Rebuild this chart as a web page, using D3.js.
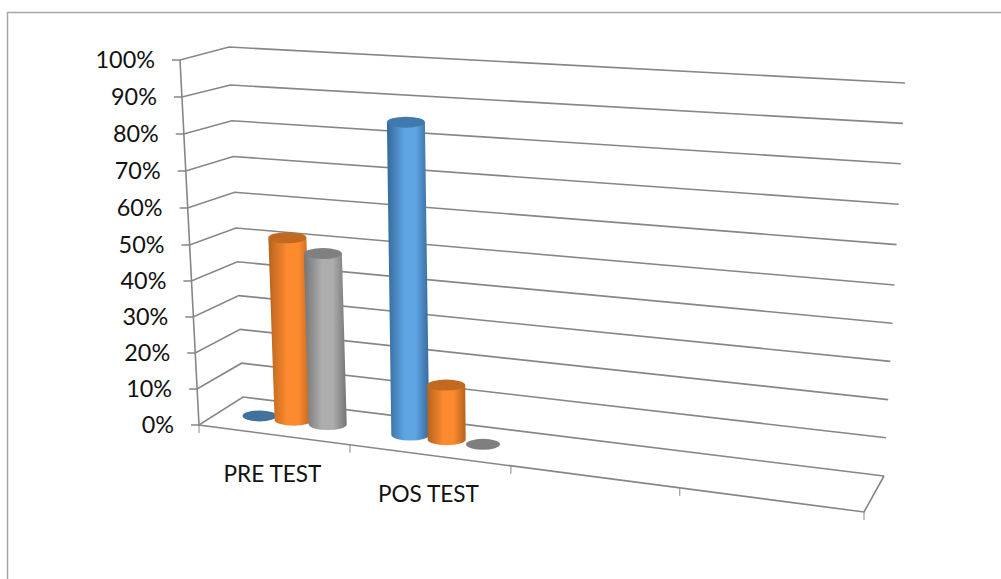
<!DOCTYPE html>
<html><head><meta charset="utf-8">
<script src="https://cdnjs.cloudflare.com/ajax/libs/d3/7.8.5/d3.min.js"></script>
<style>html,body{margin:0;padding:0;background:#fff}svg{display:block}text{font-family:Lato,sans-serif;fill:#111}</style>
</head><body><svg id="c" width="1001" height="579"></svg>
<script>
const categories = ["PRE TEST", "POS TEST", "", ""];
const seriesNames = ["S1", "S2", "S3"];
const s1Values = [0, 85, null, null];
const s2Values = [51.5, 15, null, null];
const s3Values = [48, 0, null, null];
const yTicks = [0, 10, 20, 30, 40, 50, 60, 70, 80, 90, 100];
const palette = {
  S1: {edge:"#35689a", mid:"#5fa5e3", cap:"#3f79ad", flat:"#41719c"},
  S2: {edge:"#b5631d", mid:"#fd8a2f", cap:"#c0691f", flat:"#c0691f"},
  S3: {edge:"#747474", mid:"#adadad", cap:"#808080", flat:"#7f7f7f"}
};

const svg = d3.select("#c");
const v = d3.scaleLinear().domain([0, 100]);
// the four vertical edges of the 3D box
const flX = v.copy().range([199, 180]), flY = d3.scaleLinear().domain([0, 50, 90, 100]).range([425, 245, 97, 60]);
const blX = v.copy().range([243, 229]), blY = d3.scaleLinear().domain([0, 50, 90, 100]).range([397, 228, 85, 47]);
const brX = d3.scaleLinear().domain([0,100]).range([884, 905]);
const brY = d3.scaleLinear().domain([0, 50, 100]).range([476, 285, 83]);
const frX = v.copy().range([864, 888]), frY = d3.scaleLinear().domain([0, 50, 100]).range([512, 310, 102]);

// horizontal position along the floor, foreshortened by the perspective
const catEdge = d3.scaleLinear().domain([0, 1, 2, 3, 4]).range([0, 0.227, 0.469, 0.723, 1]);
const within = d3.scalePoint().domain(seriesNames).range([0.26, 0.72]);
function project(f, d, val) {
  const lerp = d3.interpolateNumber;
  const xL = lerp(blX(val), flX(val))(d), yL = lerp(blY(val), flY(val))(d);
  const xR = lerp(brX(val), frX(val))(d), yR = lerp(brY(val), frY(val))(d);
  return [lerp(xL, xR)(f), lerp(yL, yR)(f)];
}

// outer frame
svg.append("path").attr("d", "M1001,12.5H7.5V579").attr("fill", "none").attr("stroke", "#a6a6a6").attr("stroke-width", 1.5);

const lineCol = "#868686";
const grid = svg.append("g").attr("fill", "none").attr("stroke", lineCol).attr("stroke-width", 1.6);
yTicks.forEach(t => {
  grid.append("path").attr("d", d3.line()([
    [flX(t) - 8, flY(t)], [flX(t), flY(t)], [blX(t), blY(t)], [brX(t), brY(t)]
  ]));
});
grid.append("path").attr("d", d3.line()([[flX(100), flY(100)], [flX(0), flY(0)], [frX(0), frY(0)], [brX(0), brY(0)]]));
d3.range(0, 5).forEach(i => {
  const p = project(catEdge(i), 1, 0);
  grid.append("path").attr("stroke-width", 1).attr("d", d3.line()([p, [p[0], p[1] + 8]]));
});

// y labels
svg.append("g").selectAll("text").data(yTicks).join("text")
  .attr("x", d => flX(d) - 25).attr("y", d => flY(d)).attr("dy", "0.35em")
  .attr("text-anchor", "end").attr("font-size", 23.4)
  .text(d => d + "%");

// category labels
[0, 1].forEach(i => {
  const p = project((catEdge(i) + catEdge(i + 1)) / 2, 1, 0);
  svg.append("text").attr("x", p[0] - 2).attr("y", p[1] + 39).attr("dy", "0.35em")
    .attr("text-anchor", "middle").attr("font-size", 22.6).text(categories[i]);
});

// gradients
const defs = svg.append("defs");
seriesNames.forEach(s => {
  const g = defs.append("linearGradient").attr("id", "g" + s);
  g.append("stop").attr("offset", "0%").attr("stop-color", palette[s].edge);
  g.append("stop").attr("offset", "42%").attr("stop-color", palette[s].mid);
  g.append("stop").attr("offset", "68%").attr("stop-color", palette[s].mid);
  g.append("stop").attr("offset", "100%").attr("stop-color", palette[s].edge);
});

// cylinders
const allValues = {S1: s1Values, S2: s2Values, S3: s3Values};
const rx = 19, ry = 5.5;
[0, 1].forEach(c => {
  seriesNames.forEach(s => {
    const val = allValues[s][c];
    const f = catEdge(c) + (catEdge(c + 1) - catEdge(c)) * within(s);
    const b = project(f, 0.5, 0), t = project(f, 0.5, val);
    if (val === 0) {
      svg.append("ellipse").attr("cx", b[0]).attr("cy", b[1]).attr("rx", rx - 2).attr("ry", ry).attr("fill", palette[s].flat);
      return;
    }
    svg.append("path")
      .attr("d", `M${t[0]-rx},${t[1]}L${b[0]-rx},${b[1]}A${rx},${ry} 0 0 0 ${b[0]+rx},${b[1]}L${t[0]+rx},${t[1]}Z`)
      .attr("fill", `url(#g${s})`);
    svg.append("ellipse").attr("cx", t[0]).attr("cy", t[1]).attr("rx", rx).attr("ry", ry).attr("fill", palette[s].cap);
  });
});
</script></body></html>
